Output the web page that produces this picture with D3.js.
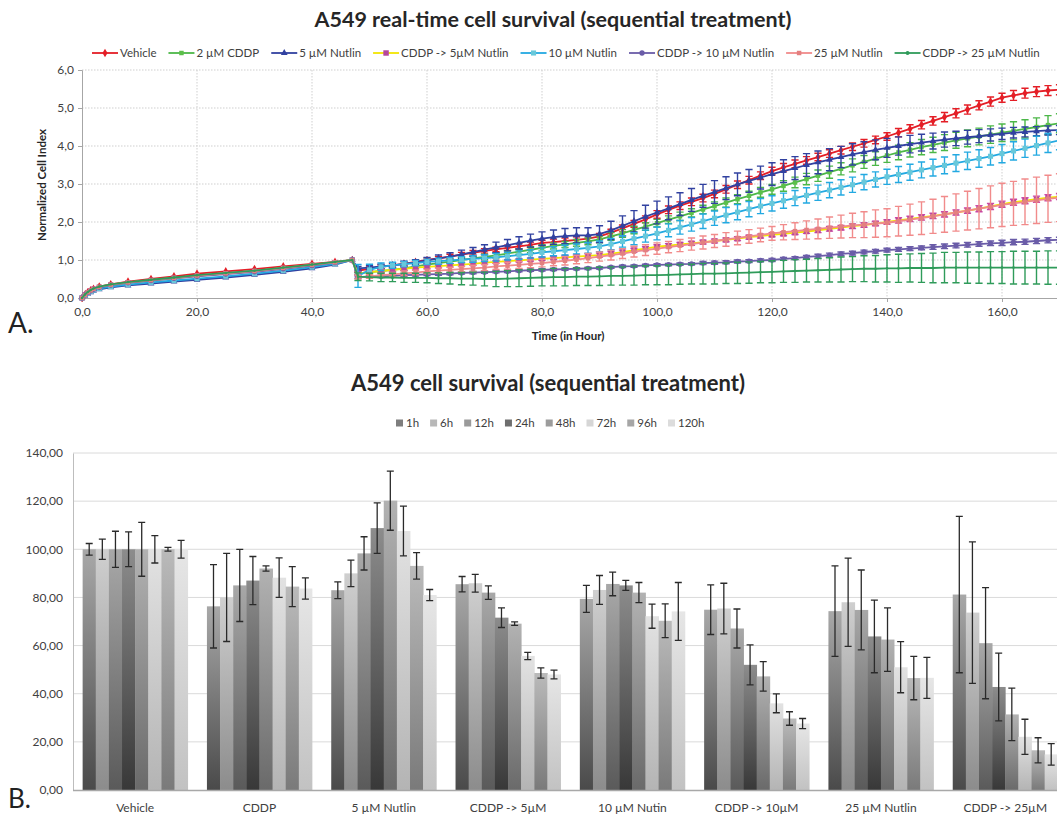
<!DOCTYPE html>
<html><head><meta charset="utf-8">
<script src="https://cdn.jsdelivr.net/npm/d3@7"></script>
<style>body{margin:0;background:#fff} svg{display:block} text{font-family:Lato,"Open Sans",sans-serif}</style>
</head><body><svg id="c" width="1057" height="814"></svg>
<script>
// ---------------- DATA: chart A (real-time) ----------------
const seriesNames = ["Vehicle","2 µM CDDP","5 µM Nutlin","CDDP -> 5µM Nutlin","10 µM Nutlin","CDDP -> 10 µM Nutlin","25 µM Nutlin","CDDP -> 25 µM Nutlin"];
const hoursEarly = [0,0.5,1,1.5,2,3,5,8,12,16,20,25,30,35,40,44,47];
const hoursLate = [48,50,52,54,56,58,60,62,64,66,68,70,72,74,76,78,80,82,84,86,88,90,92,94,96,98,100,102,104,106,108,110,112,114,116,118,120,122,124,126,128,130,132,134,136,138,140,142,144,146,148,150,152,154,156,158,160,162,164,166,168,170];

const vehicleEarly = [0,0.08,0.15,0.2,0.24,0.3,0.36,0.43,0.5,0.57,0.64,0.7,0.76,0.83,0.9,0.95,1.0];
const vehicleLate = [.72,.77,.82,.86,.90,.95,1.00,1.04,1.09,1.14, 1.19,1.24,1.28,1.32,1.36,1.40,1.45,1.47,1.50,1.53, 1.56,1.62,1.72,1.83,1.95,2.07,2.20,2.32,2.43,2.53, 2.63,2.74,2.86,2.98,3.10,3.22,3.34,3.44,3.53,3.62, 3.71,3.80,3.89,3.98,4.07,4.16,4.25,4.35,4.45,4.56, 4.66,4.76,4.86,4.96,5.07,5.17,5.27,5.33,5.39,5.43, 5.46,5.48];
const vehicleErr = [.05,.05,.05,.05,.05,.05,.05,.05,.06,.06, .06,.06,.06,.07,.07,.07,.07,.08,.08,.08, .08,.08,.09,.09,.09,.09,.1,.1,.1,.1, .1,.1,.1,.1,.1,.1,.1,.1,.1,.1, .1,.1,.1,.1,.1,.1,.1,.11,.11,.11, .11,.12,.12,.12,.12,.12,.12,.13,.13,.13, .13,.13];

const cddpEarly = [0,0.08,0.14,0.19,0.23,0.29,0.35,0.41,0.47,0.53,0.59,0.65,0.71,0.79,0.87,0.94,1.0];
const cddpLate = [.65,.68,.71,.74,.78,.83,.88,.92,.96,1.00, 1.04,1.08,1.12,1.17,1.22,1.27,1.32,1.37,1.41,1.45, 1.49,1.54,1.62,1.70,1.79,1.88,1.97,2.06,2.15,2.24, 2.33,2.42,2.51,2.60,2.69,2.78,2.86,2.95,3.04,3.13, 3.22,3.31,3.40,3.49,3.58,3.67,3.75,3.83,3.90,3.97, 4.03,4.09,4.15,4.20,4.25,4.30,4.35,4.40,4.45,4.50, 4.55,4.60];
const cddpErr = [.04,.04,.04,.05,.05,.05,.05,.06,.06,.06, .06,.07,.07,.07,.07,.08,.08,.08,.08,.09, .09,.09,.1,.1,.1,.1,.1,.1,.11,.11, .11,.11,.12,.12,.12,.13,.13,.14,.14,.15, .15,.16,.16,.17,.17,.18,.18,.19,.19,.2, .2,.21,.21,.22,.22,.23,.23,.24,.24,.24, .25,.25];

const nut5Early = [0,0.06,0.11,0.15,0.19,0.23,0.28,0.33,0.38,0.43,0.48,0.54,0.61,0.69,0.78,0.88,1.0];
const nut5Late = [.78,.80,.83,.86,.90,.94,.99,1.04,1.09,1.15, 1.21,1.27,1.33,1.39,1.45,1.51,1.56,1.60,1.63,1.65, 1.65,1.68,1.78,1.90,2.02,2.14,2.25,2.36,2.47,2.58, 2.69,2.79,2.89,2.99,3.08,3.17,3.26,3.34,3.42,3.50, 3.57,3.64,3.71,3.78,3.84,3.90,3.95,4.00,4.05,4.09, 4.13,4.17,4.20,4.23,4.26,4.29,4.32,4.35,4.37,4.39, 4.41,4.42];
const nut5Err = [.05,.05,.06,.06,.07,.07,.08,.09,.1,.11, .12,.13,.14,.15,.16,.17,.18,.19,.2,.2, .2,.22,.24,.26,.28,.3,.3,.3,.3,.3, .3,.3,.3,.3,.3,.3,.3,.3,.3,.3, .3,.29,.28,.28,.27,.26,.25,.24,.23,.22, .21,.2,.19,.18,.17,.16,.15,.14,.13,.12, .12,.12];

const seq5Early = [0,0.08,0.14,0.19,0.23,0.28,0.34,0.4,0.46,0.52,0.58,0.64,0.7,0.78,0.86,0.93,1.0];
const seq5Late = [.65,.68,.71,.74,.77,.80,.82,.84,.86,.88, .90,.93,.95,.97,.99,1.01,1.03,1.05,1.07,1.09, 1.11,1.13,1.17,1.21,1.26,1.30,1.35,1.38,1.41,1.44, 1.47,1.50,1.53,1.56,1.60,1.63,1.66,1.69,1.72,1.75, 1.78,1.82,1.85,1.89,1.92,1.96,2.00,2.04,2.08,2.12, 2.16,2.20,2.25,2.30,2.35,2.41,2.47,2.52,2.56,2.60, 2.64,2.67];
const seq5Err = [.04,.04,.04,.04,.04,.04,.04,.04,.04,.04, .04,.04,.04,.04,.04,.04,.04,.04,.04,.04, .05,.05,.05,.05,.05,.05,.05,.05,.05,.05, .05,.05,.05,.05,.05,.05,.05,.05,.05,.05, .06,.06,.06,.06,.06,.06,.06,.07,.07,.07, .07,.07,.07,.07,.08,.08,.08,.08,.08,.08, .08,.08];

const nut10Early = [0,0.07,0.12,0.17,0.21,0.25,0.3,0.35,0.41,0.46,0.51,0.57,0.64,0.72,0.81,0.9,1.0];
const nut10Late = [.58,.74,.82,.86,.89,.92,.95,.97,.99,1.01, 1.03,1.05,1.07,1.10,1.13,1.16,1.20,1.23,1.26,1.29, 1.32,1.36,1.42,1.49,1.56,1.63,1.70,1.78,1.86,1.94, 2.02,2.10,2.18,2.26,2.34,2.42,2.49,2.56,2.63,2.70, 2.77,2.84,2.91,2.98,3.05,3.12,3.19,3.25,3.31,3.37, 3.43,3.49,3.55,3.61,3.67,3.73,3.80,3.87,3.94,4.01, 4.08,4.15];
const nut10Err = [.3,.15,.1,.08,.07,.07,.07,.08,.08,.08, .09,.09,.1,.1,.11,.11,.12,.12,.13,.13, .14,.14,.15,.15,.16,.16,.17,.17,.18,.18, .19,.19,.2,.2,.2,.2,.2,.2,.2,.2, .2,.2,.2,.2,.2,.2,.2,.21,.21,.21, .22,.22,.22,.23,.23,.23,.24,.24,.24,.25, .25,.25];

const seq10Early = [0,0.08,0.14,0.19,0.23,0.28,0.34,0.4,0.46,0.52,0.57,0.63,0.69,0.77,0.85,0.93,1.0];
const seq10Late = [.55,.56,.57,.58,.60,.61,.62,.63,.64,.66, .67,.68,.69,.70,.72,.73,.74,.75,.76,.77, .78,.79,.81,.83,.84,.86,.87,.88,.89,.90, .92,.93,.94,.96,.97,.99,1.00,1.03,1.05,1.08, 1.10,1.13,1.16,1.18,1.21,1.23,1.26,1.28,1.30,1.32, 1.34,1.36,1.38,1.40,1.42,1.44,1.45,1.47,1.48,1.50, 1.52,1.53];
const seq10Err = [.03,.03,.03,.03,.03,.03,.03,.03,.03,.03, .03,.03,.03,.03,.03,.03,.03,.03,.03,.03, .03,.03,.03,.03,.03,.03,.03,.03,.03,.03, .04,.04,.04,.04,.04,.04,.04,.04,.04,.04, .05,.05,.05,.05,.05,.05,.05,.05,.05,.05, .06,.06,.06,.06,.06,.06,.07,.07,.07,.07, .07,.07];

const nut25Early = [0,0.08,0.15,0.2,0.24,0.29,0.35,0.41,0.47,0.53,0.59,0.65,0.71,0.79,0.87,0.94,1.0];
const nut25Late = [.55,.57,.60,.62,.65,.67,.70,.72,.74,.76, .78,.80,.83,.85,.87,.90,.92,.95,.98,1.01, 1.05,1.09,1.13,1.17,1.22,1.26,1.30,1.34,1.38,1.42, 1.46,1.50,1.54,1.58,1.62,1.66,1.70,1.73,1.76,1.79, 1.82,1.85,1.88,1.91,1.93,1.96,1.98,2.02,2.06,2.10, 2.15,2.20,2.25,2.30,2.35,2.40,2.45,2.49,2.53,2.57, 2.61,2.64];
const nut25Err = [.05,.05,.05,.05,.06,.06,.06,.07,.07,.07, .08,.08,.08,.09,.09,.1,.1,.1,.11,.11, .12,.12,.13,.13,.14,.14,.15,.15,.16,.16, .17,.17,.18,.18,.18,.18,.18,.2,.22,.24, .26,.28,.3,.32,.34,.36,.37,.39,.41,.43, .45,.47,.49,.51,.53,.55,.57,.58,.6,.61, .62,.63];

const seq25Early = [0,0.09,0.16,0.21,0.25,0.3,0.36,0.42,0.48,0.54,0.6,0.66,0.72,0.8,0.88,0.95,1.0];
const seq25Late = [.56,.55,.54,.54,.53,.53,.53,.52,.52,.51, .51,.50,.50,.51,.52,.53,.54,.55,.55,.56, .56,.57,.58,.58,.59,.60,.60,.61,.62,.63, .64,.64,.65,.66,.67,.68,.69,.70,.71,.72, .73,.74,.75,.76,.77,.77,.78,.78,.79,.79, .79,.80,.80,.80,.80,.80,.80,.80,.80,.80, .80,.80];
const seq25Err = [.1,.1,.11,.11,.12,.12,.13,.14,.15,.16, .17,.18,.2,.21,.22,.22,.22,.23,.23,.23, .23,.24,.24,.24,.25,.25,.25,.26,.26,.26, .27,.27,.27,.28,.28,.28,.29,.29,.3,.3, .31,.32,.33,.33,.34,.35,.36,.37,.37,.38, .39,.4,.4,.41,.41,.42,.42,.43,.43,.43, .44,.44];

const yTicksA = [0,1,2,3,4,5,6];
const xTicksA = [0,20,40,60,80,100,120,140,160];

// ---------------- DATA: chart B (bars) ----------------
const categories = ["Vehicle","CDDP","5 µM Nutlin","CDDP -> 5µM","10 µM Nutin","CDDP -> 10µM","25 µM Nutlin","CDDP -> 25µM"];
const timeLabels = ["1h","6h","12h","24h","48h","72h","96h","120h"];
const val1h   = [100,76.3,83,85.5,79.4,74.9,74.3,81.2];
const val6h   = [100,80,90,85.9,83.1,75.4,78,73.7];
const val12h  = [100,85,98.3,82,85.6,67.1,74.8,61];
const val24h  = [100,87,108.8,71.6,85,52,63.8,42.8];
const val48h  = [100,92,120.2,69.1,82,47.2,62.5,31.4];
const val72h  = [100,88.2,107.6,55.7,72.2,36,51,22.1];
const val96h  = [100,84.5,93.1,48.6,70.3,29.7,46.5,16.5];
const val120h = [100,83.7,81,48,74.2,27.6,46.6,14.8];
const err1h   = [2.4,17.3,3.5,3.2,5.6,10.3,18.8,32.5];
const err6h   = [4.2,18.3,5.5,3.7,6,10.5,18.3,29.4];
const err12h  = [7.5,15,6.9,2.8,4.9,8.1,16.6,23.1];
const err24h  = [7.2,10,10.5,4.1,2.1,8.3,15.1,14.1];
const err48h  = [11.2,1.1,12.3,0.75,4.2,6.1,13.2,10.9];
const err72h  = [5.7,8.2,10.3,1.5,5,3.9,10.6,7.3];
const err96h  = [0.8,8.3,5.5,2.1,7,2.8,9,5.2];
const err120h = [3.7,4.4,2.3,1.8,12,2.1,8.5,4.5];
const yTicksB = [0,20,40,60,80,100,120,140];

// ---------------- STYLE ----------------
const styleA = [
  {line:"#e41e26", mark:"#e41e26", err:"#e41e26", sym:d3.symbolDiamond, size:22},
  {line:"#4cb748", mark:"#5cbf4a", err:"#4cb748", sym:d3.symbolSquare, size:20},
  {line:"#3141a0", mark:"#3141a0", err:"#3141a0", sym:d3.symbolTriangle, size:20},
  {line:"#f2e500", mark:"#b6489c", err:"#d04aa6", sym:d3.symbolSquare, size:30},
  {line:"#23a9e1", mark:"#68c8da", err:"#23a9e1", sym:d3.symbolSquare, size:26},
  {line:"#6a5ca8", mark:"#6a5ca8", err:"#6a5ca8", sym:d3.symbolCircle, size:22},
  {line:"#f18b8b", mark:"#e38080", err:"#f18b8b", sym:d3.symbolSquare, size:20},
  {line:"#2f9b5a", mark:"#2f9b5a", err:"#2f9b5a", sym:d3.symbolCircle, size:5}
];
const early = [vehicleEarly,cddpEarly,nut5Early,seq5Early,nut10Early,seq10Early,nut25Early,seq25Early];
const late = [vehicleLate,cddpLate,nut5Late,seq5Late,nut10Late,seq10Late,nut25Late,seq25Late];
const errs = [vehicleErr,cddpErr,nut5Err,seq5Err,nut10Err,seq10Err,nut25Err,seq25Err];

const svg = d3.select("#c");
svg.append("rect").attr("width",1057).attr("height",814).attr("fill","#fff");
const fmtComma = d => d.toFixed(1).replace(".", ",");

// ============ CHART A ============
const xA = d3.scaleLinear().domain([0,170]).range([82, 82+170*5.75]);
const yA = d3.scaleLinear().domain([0,6]).range([298,70]);

svg.append("text").attr("x",553).attr("y",27).attr("text-anchor","middle")
  .attr("font-size",21.5).attr("font-weight","bold").attr("fill","#262626")
  .text("A549 real-time cell survival (sequential treatment)");

const gA = svg.append("g");
gA.selectAll(".gy").data(yTicksA.slice(1)).join("line")
  .attr("x1",82).attr("x2",1057).attr("y1",d=>yA(d)).attr("y2",d=>yA(d))
  .attr("stroke","#cfcfcf").attr("stroke-dasharray","1.5,1.5");
gA.selectAll(".gx").data(xTicksA.slice(1)).join("line")
  .attr("x1",d=>xA(d)).attr("x2",d=>xA(d)).attr("y1",70).attr("y2",298)
  .attr("stroke","#cfcfcf").attr("stroke-dasharray","1.5,1.5");

const axYA = gA.append("g").attr("transform","translate(82,0)")
  .call(d3.axisLeft(yA).tickValues(yTicksA).tickSize(4).tickPadding(4).tickFormat(fmtComma));
const axXA = gA.append("g").attr("transform","translate(0,298)")
  .call(d3.axisBottom(xA).tickValues(xTicksA).tickSize(4).tickPadding(5).tickFormat(fmtComma));
[axYA,axXA].forEach(a=>{
  a.selectAll("path,line").attr("stroke","#a6a6a6");
  a.selectAll("text").attr("font-size",12).attr("fill","#404040").attr("font-family","Lato");
});

svg.append("defs").append("clipPath").attr("id","clipA").append("rect")
  .attr("x",78).attr("y",60).attr("width",990).attr("height",242);
const plotA = gA.append("g").attr("clip-path","url(#clipA)");
const lineGen = d3.line().x(d=>xA(d[0])).y(d=>yA(d[1]));

styleA.forEach((st,i)=>{
  const pts = hoursEarly.map((h,k)=>[h,early[i][k]]).concat(hoursLate.map((h,k)=>[h,late[i][k],errs[i][k]]));
  const g = plotA.append("g");
  const eb = pts.filter(p=>p[2]!==undefined);
  g.selectAll(".eb").data(eb).join("path")
    .attr("d",p=>{const x=xA(p[0]), y1=yA(p[1]+p[2]), y2=yA(p[1]-p[2]);
      return `M${x},${y1}V${y2}M${x-3.6},${y1}H${x+3.6}M${x-3.6},${y2}H${x+3.6}`;})
    .attr("fill","none").attr("stroke",st.err).attr("stroke-width",1.4);
  g.append("path").datum(pts).attr("d",lineGen).attr("fill","none")
    .attr("stroke",st.line).attr("stroke-width",1.8);
  g.selectAll(".mk").data(pts).join("path")
    .attr("transform",p=>`translate(${xA(p[0])},${yA(p[1])})`)
    .attr("d",d3.symbol(st.sym,st.size)).attr("fill",st.mark);
});

// legend A
const legA = svg.append("g").attr("transform","translate(0,53)");
let lx = 92;
seriesNames.forEach((n,i)=>{
  const st = styleA[i];
  const it = legA.append("g").attr("transform",`translate(${lx},0)`);
  it.append("line").attr("x1",0).attr("x2",26).attr("stroke",st.line).attr("stroke-width",1.8);
  it.append("path").attr("transform","translate(13,0)").attr("d",d3.symbol(st.sym,Math.max(st.size,12))).attr("fill",st.mark);
  const t = it.append("text").attr("x",28).attr("y",4).attr("font-size",11.5).attr("fill","#404040").text(n);
  lx += 28 + t.node().getComputedTextLength() + 12;
});

svg.append("text").attr("transform","translate(46,185) rotate(-90)").attr("text-anchor","middle")
  .attr("font-size",11.5).attr("font-weight","bold").attr("fill","#262626").text("Normalized Cell Index");
svg.append("text").attr("x",568).attr("y",340).attr("text-anchor","middle")
  .attr("font-size",11.5).attr("font-weight","bold").attr("fill","#262626").text("Time (in Hour)");
svg.append("text").attr("x",8).attr("y",333).attr("font-size",28).attr("font-family","Liberation Sans").attr("fill","#222").text("A.");

// ============ CHART B ============
const valsB = [val1h,val6h,val12h,val24h,val48h,val72h,val96h,val120h];
const errsB = [err1h,err6h,err12h,err24h,err48h,err72h,err96h,err120h];
const gradB = [["#a8a8a8","#4a4a4a"],["#cfcfcf","#8c8c8c"],["#a8a8a8","#5a5a5a"],["#8c8c8c","#383838"],["#b2b2b2","#6a6a6a"],["#e2e2e2","#b4b4b4"],["#bababa","#7a7a7a"],["#e6e6e6","#c2c2c2"]];
const swatchB = ["#7e7e7e","#b8b8b8","#9a9a9a","#6e6e6e","#9c9c9c","#d6d6d6","#a6a6a6","#dcdcdc"];
const defs = svg.select("defs");
gradB.forEach((g,i)=>{
  const lg = defs.append("linearGradient").attr("id","gb"+i).attr("x1",0).attr("x2",0).attr("y1",0).attr("y2",1);
  lg.append("stop").attr("offset","0%").attr("stop-color",g[0]);
  lg.append("stop").attr("offset","100%").attr("stop-color",g[1]);
});

svg.append("text").attr("x",548).attr("y",391).attr("text-anchor","middle")
  .attr("font-size",22).attr("font-weight","bold").attr("fill","#262626")
  .text("A549 cell survival (sequential treatment)");

const xB = d3.scaleBand().domain(categories).range([73, 73+8*124.3]).paddingInner(0.155).paddingOuter(0.0775);
const xS = d3.scaleBand().domain(timeLabels).range([0, xB.bandwidth()]);
const yB = d3.scaleLinear().domain([0,140]).range([790,453]);

const gB = svg.append("g");
gB.selectAll(".gyb").data(yTicksB.slice(1)).join("line")
  .attr("x1",73).attr("x2",1057).attr("y1",d=>yB(d)).attr("y2",d=>yB(d))
  .attr("stroke","#dadada").attr("stroke-width",1);

valsB.forEach((vals,i)=>{
  gB.append("g").selectAll("rect").data(vals).join("rect")
    .attr("x",(v,j)=>xB(categories[j])+xS(timeLabels[i]))
    .attr("width",xS.bandwidth()+0.4)
    .attr("y",v=>yB(v)).attr("height",v=>yB(0)-yB(v))
    .attr("fill",`url(#gb${i})`);
});
valsB.forEach((vals,i)=>{
  gB.append("g").selectAll("path").data(vals).join("path")
    .attr("d",(v,j)=>{const x=xB(categories[j])+xS(timeLabels[i])+xS.bandwidth()/2;
      const y1=yB(v+errsB[i][j]), y2=yB(v-errsB[i][j]);
      return `M${x},${y1}V${y2}M${x-3.5},${y1}H${x+3.5}M${x-3.5},${y2}H${x+3.5}`;})
    .attr("fill","none").attr("stroke","#2a2a2a").attr("stroke-width",1.3);
});

const axYB = gB.append("g").attr("transform","translate(73,0)")
  .call(d3.axisLeft(yB).tickValues(yTicksB).tickSize(0).tickPadding(10).tickFormat(d=>d.toFixed(2).replace(".",",")));
axYB.select(".domain").attr("stroke","#bdbdbd");
axYB.selectAll("text").attr("font-size",12).attr("fill","#404040").attr("font-family","Lato");
gB.append("line").attr("x1",73).attr("x2",1057).attr("y1",790.5).attr("y2",790.5).attr("stroke","#a8a8a8").attr("stroke-width",1.5);
const axXB = gB.append("g").attr("transform","translate(0,790)")
  .call(d3.axisBottom(xB).tickSize(0).tickPadding(13));
axXB.select(".domain").remove();
axXB.selectAll("text").attr("font-size",12).attr("fill","#404040").attr("font-family","Lato");

// legend B
const legB = svg.append("g").attr("transform","translate(0,423)");
let bx = 396;
timeLabels.forEach((t,i)=>{
  const it = legB.append("g").attr("transform",`translate(${bx},0)`);
  it.append("rect").attr("x",0).attr("y",-3.5).attr("width",7).attr("height",7).attr("fill",swatchB[i]);
  const tx = it.append("text").attr("x",10).attr("y",4).attr("font-size",11.5).attr("fill","#404040").text(t);
  bx += 10 + tx.node().getComputedTextLength() + 11;
});

svg.append("text").attr("x",8).attr("y",808).attr("font-size",26).attr("font-family","Liberation Sans").attr("fill","#222").text("B.");
</script></body></html>
